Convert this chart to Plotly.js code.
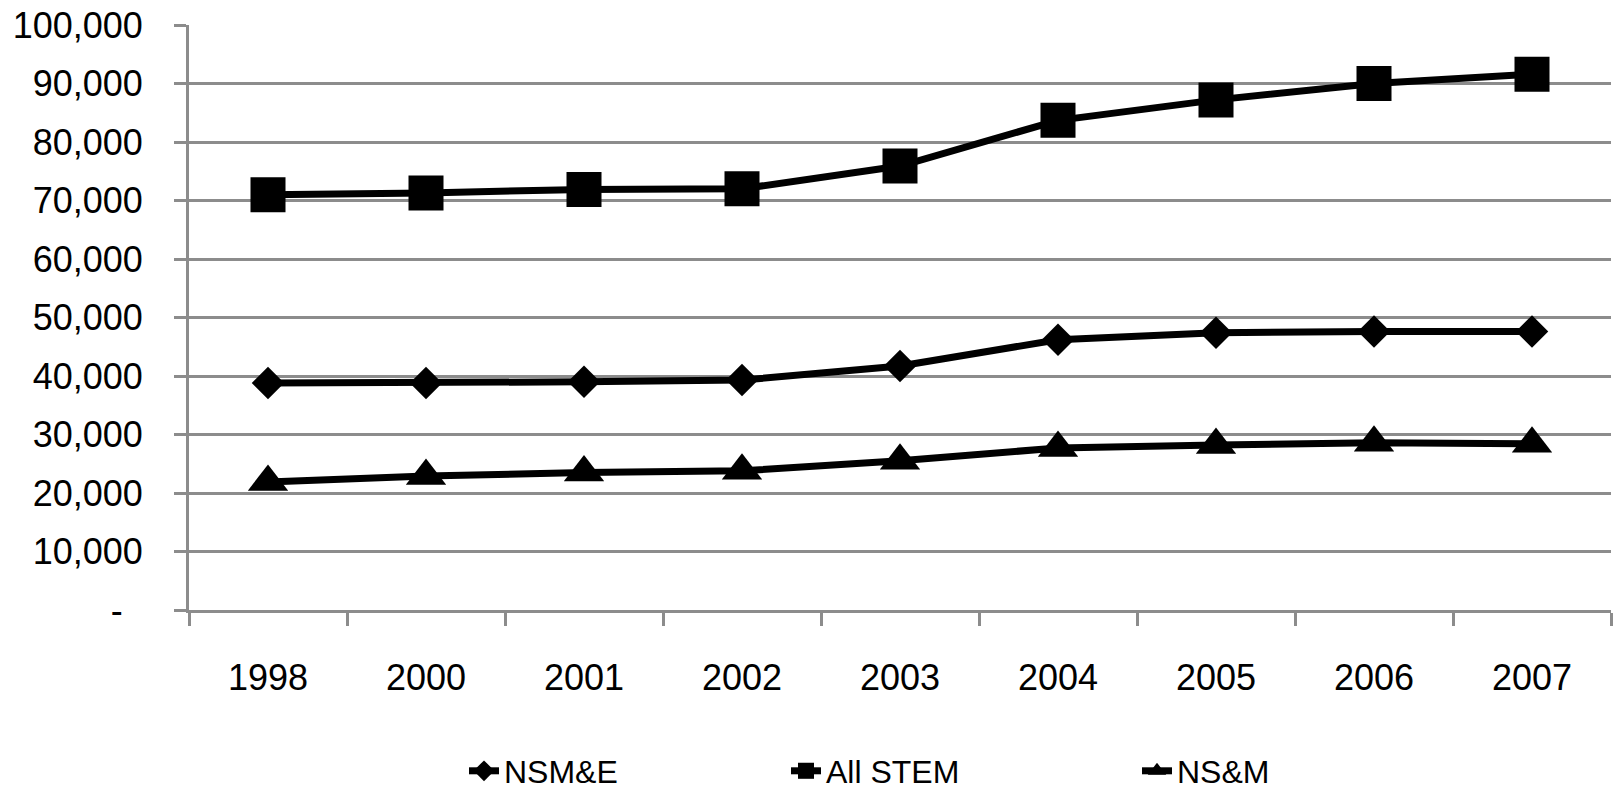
<!DOCTYPE html>
<html>
<head>
<meta charset="utf-8">
<script src="https://cdn.plot.ly/plotly-3.0.1.min.js"></script>
<style>html,body{margin:0;padding:0;background:#fff;}#chart{width:1617px;height:792px;}</style>
</head>
<body>
<div id="chart"></div>
<script>
var years = ['1998', '2000', '2001', '2002', '2003', '2004', '2005', '2006', '2007'];
var nsme = [38800, 38800, 39000, 39300, 41700, 46200, 47400, 47600, 47600];
var allStem = [71000, 71300, 71900, 72000, 75900, 83700, 87200, 90000, 91600];
var nsm = [21900, 22900, 23500, 23800, 25500, 27700, 28200, 28600, 28400];
var yTickVals = [0, 10000, 20000, 30000, 40000, 50000, 60000, 70000, 80000, 90000, 100000];
var yTickText = ['-\u00a0\u00a0', '10,000', '20,000', '30,000', '40,000', '50,000', '60,000', '70,000', '80,000', '90,000', '100,000'];

var FONT = 'Liberation Sans, Arial, sans-serif';

var traces = [
  {x: years, y: nsme, name: 'NSM&E', type: 'scatter', mode: 'lines+markers',
   line: {color: '#000', width: 7}, marker: {symbol: 'diamond', size: 25, color: '#000'}, legend: 'legend'},
  {x: years, y: allStem, name: 'All STEM', type: 'scatter', mode: 'lines+markers',
   line: {color: '#000', width: 7}, marker: {symbol: 'square', size: 35, color: '#000'}, legend: 'legend2'},
  {x: years, y: nsm, name: 'NS&M', type: 'scatter', mode: 'lines+markers',
   line: {color: '#000', width: 7}, marker: {symbol: 'triangle-up', size: 35, color: '#000'}, legend: 'legend3'}
];

function leg(px) {
  return {x: px / 1617, xref: 'container', xanchor: 'left', y: 1 - 771 / 792, yref: 'container', yanchor: 'middle',
    orientation: 'h', font: {family: FONT, size: 32, color: '#000'}, bgcolor: 'rgba(0,0,0,0)', borderwidth: 0};
}

var layout = {
  width: 1617, height: 792,
  margin: {l: 189, r: 6, t: 25, b: 182},
  paper_bgcolor: '#fff', plot_bgcolor: '#fff',
  showlegend: true,
  legend: leg(464), legend2: leg(786), legend3: leg(1137),
  xaxis: {
    type: 'category', range: [-0.5, 8.5], tickson: 'boundaries',
    ticks: 'outside', ticklen: 13, tickwidth: 3, tickcolor: '#8c8c8c',
    showline: true, linecolor: '#8c8c8c', linewidth: 3, showgrid: false,
    tickfont: {family: FONT, size: 36, color: '#000'}, ticklabelstandoff: 34, fixedrange: true
  },
  yaxis: {
    range: [0, 100000], tickvals: yTickVals, ticktext: yTickText,
    ticks: 'outside', ticklen: 12, tickwidth: 3, tickcolor: '#8c8c8c',
    showline: true, linecolor: '#8c8c8c', linewidth: 3,
    showgrid: true, gridcolor: '#8c8c8c', gridwidth: 3, zeroline: false,
    tickfont: {family: FONT, size: 36, color: '#000'}, ticklabelstandoff: 24, fixedrange: true
  }
};

Plotly.newPlot('chart', traces, layout, {displayModeBar: false, staticPlot: true});
</script>
</body>
</html>
